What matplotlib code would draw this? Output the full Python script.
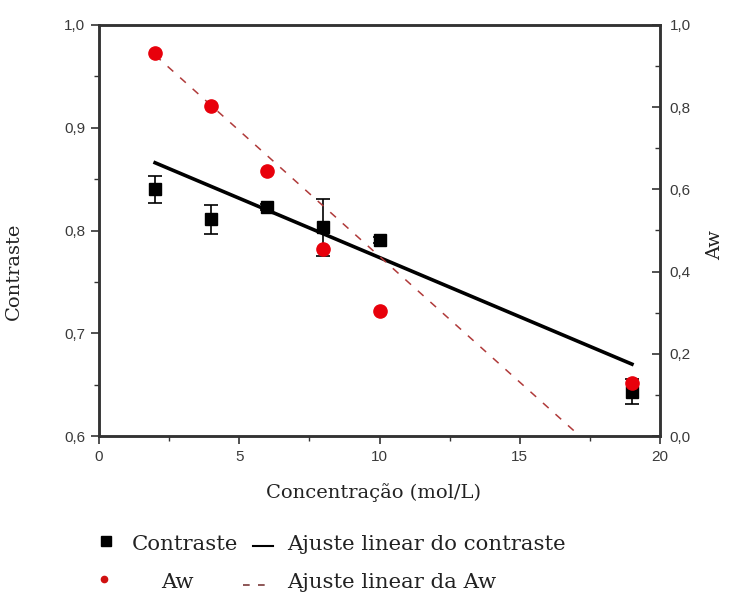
import matplotlib
matplotlib.use("Agg")
import matplotlib.pyplot as plt
from matplotlib.lines import Line2D
from matplotlib.ticker import MultipleLocator
import numpy as np

# ---- data ----
conc = [2, 4, 6, 8, 10, 19]
contraste = [0.840, 0.811, 0.823, 0.803, 0.791, 0.643]
contraste_err = [0.013, 0.014, 0.003, 0.028, 0.003, 0.012]
aw = [0.932, 0.803, 0.645, 0.455, 0.304, 0.128]

# linear fits as drawn in the reference: (intercept, slope)
fit_contraste = (0.889, -0.01153)
fit_aw = (1.049, -0.0612)
fit_range = (2, 19)

xticks = [0, 5, 10, 15, 20]
xticklabels = ["0", "5", "10", "15", "20"]
yticks_left = [0.6, 0.7, 0.8, 0.9, 1.0]
yticklabels_left = ["0,6", "0,7", "0,8", "0,9", "1,0"]
yticks_right = [0.0, 0.2, 0.4, 0.6, 0.8, 1.0]
yticklabels_right = ["0,0", "0,2", "0,4", "0,6", "0,8", "1,0"]

W, H = 739, 596
fig = plt.figure(figsize=(W / 100, H / 100), dpi=100)
L, R, T, B = 99, 660, 25, 436
ax = fig.add_axes([L / W, 1 - B / H, (R - L) / W, (B - T) / H])
ax2 = ax.twinx()

serif = ["DejaVu Serif"]
sans = ["Liberation Sans", "DejaVu Sans"]
axis_col = "#333333"
tick_col = "#3a3a3a"
text_col = "#222222"

# contraste
ax.errorbar(conc, contraste, yerr=contraste_err, fmt="s", color="black",
            markersize=8.5, capsize=5, elinewidth=1.2, capthick=1.2, zorder=3)
xf = np.linspace(fit_range[0], fit_range[1], 100)
ax.plot(xf, fit_contraste[0] + fit_contraste[1] * xf, color="black", lw=2.6, zorder=2)

# Aw (drawn on top)
ax2.plot(xf, fit_aw[0] + fit_aw[1] * xf, color="#b03a3a", lw=1.1,
         linestyle=(0, (5, 6)), zorder=2)
ax2.plot(conc, aw, "o", color="#e8000b", markersize=9.5, zorder=4)

ax.set_xlim(0, 20)
ax.set_ylim(0.6, 1.0)
ax2.set_ylim(0.0, 1.0)

ax.set_xticks(xticks)
ax.set_xticklabels(xticklabels)
ax.xaxis.set_minor_locator(MultipleLocator(2.5))
ax.set_yticks(yticks_left)
ax.set_yticklabels(yticklabels_left)
ax.yaxis.set_minor_locator(MultipleLocator(0.05))
ax2.set_yticks(yticks_right)
ax2.set_yticklabels(yticklabels_right)
ax2.yaxis.set_minor_locator(MultipleLocator(0.1))

for a in (ax, ax2):
    for s in a.spines.values():
        s.set_color(axis_col)
        s.set_linewidth(1.8)

ax.tick_params(axis="both", which="major", direction="out", length=6, width=1.2,
               color=axis_col, labelcolor=tick_col, labelsize=11, pad=4)
ax.tick_params(axis="both", which="minor", direction="out", length=3.5, width=1.0,
               color=axis_col)
ax.tick_params(axis="y", right=False)
ax2.tick_params(axis="y", which="major", direction="in", length=6, width=1.2,
                color=axis_col, labelcolor=tick_col, labelsize=11, pad=7)
ax2.tick_params(axis="y", which="minor", direction="in", length=3.5, width=1.0,
                color=axis_col)
for lab in ax.get_xticklabels() + ax.get_yticklabels() + ax2.get_yticklabels():
    lab.set_family(sans)

ax.set_xlabel("Concentração (mol/L)", family=serif, fontsize=14, color=text_col)
ax.xaxis.set_label_coords(0.49, -0.115)
ax.set_ylabel("Contraste", family=serif, fontsize=14, color=text_col)
ax.yaxis.set_label_coords(-0.135, 0.40)
ax2.set_ylabel("Aw", family=serif, fontsize=14, color=text_col, rotation=90)
ax2.yaxis.set_label_coords(1.083, 0.465)


def fx(px):
    return px / W


def fy(py):
    return 1 - py / H


# custom legend below the plot
fs_leg = 15.3
fig.add_artist(Line2D([fx(106)], [fy(541)], marker="s", color="black",
                      markersize=6.5, linestyle="none", transform=fig.transFigure))
fig.text(fx(132), fy(545), "Contraste", family=serif, fontsize=fs_leg,
         va="center", ha="left", color=text_col)
fig.add_artist(Line2D([fx(253), fx(273)], [fy(546), fy(546)], color="black",
                      lw=1.5, transform=fig.transFigure))
fig.text(fx(287), fy(545), "Ajuste linear do contraste", family=serif,
         fontsize=fs_leg, va="center", ha="left", color=text_col)

fig.add_artist(Line2D([fx(104)], [fy(579)], marker="o", color="#d01010",
                      markersize=4.5, linestyle="none", transform=fig.transFigure))
fig.text(fx(177), fy(583), "Aw", family=serif, fontsize=fs_leg,
         va="center", ha="center", color=text_col)
fig.add_artist(Line2D([fx(243), fx(273)], [fy(585), fy(585)], color="#7a3a3a",
                      lw=1.2, linestyle=(0, (4, 5)), transform=fig.transFigure))
fig.text(fx(287), fy(583), "Ajuste linear da Aw", family=serif,
         fontsize=fs_leg, va="center", ha="left", color=text_col)

fig.savefig("out.png", dpi=100, facecolor="white")
